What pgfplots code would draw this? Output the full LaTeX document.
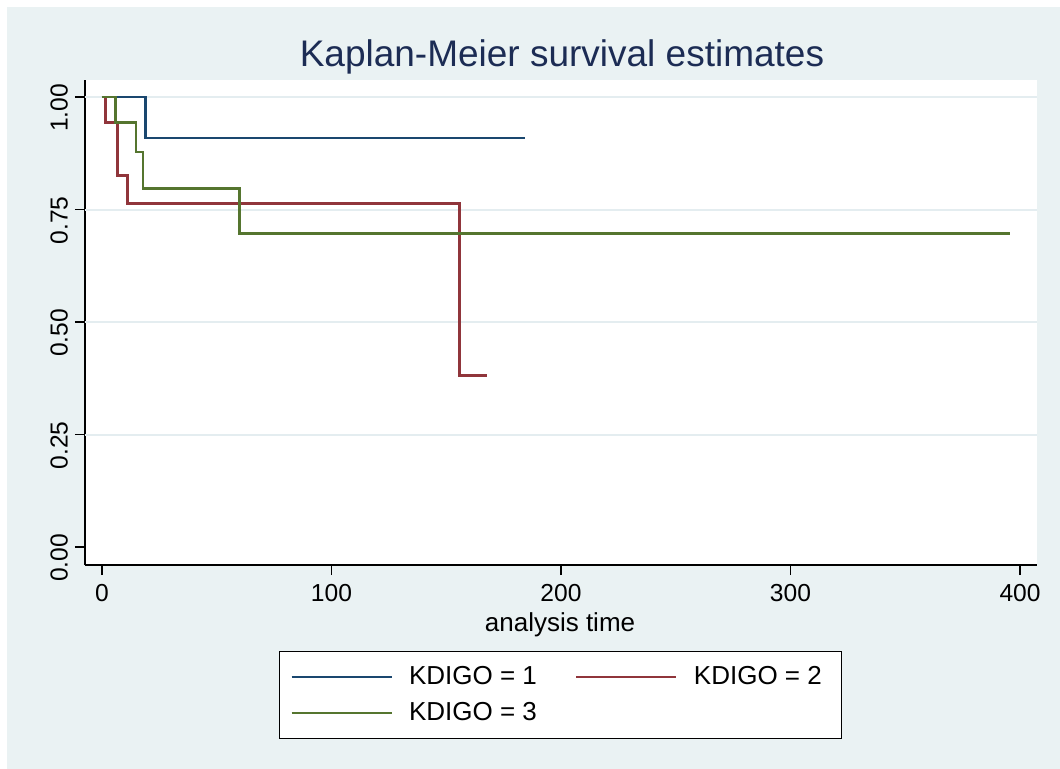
\documentclass[border=0pt]{standalone}
\usepackage{fontspec}
\setmainfont{Liberation Sans}
\usepackage{pgfplots}
\pgfplotsset{compat=1.18}
\definecolor{bgc}{RGB}{234,242,243}
\definecolor{gridc}{RGB}{228,237,240}
\definecolor{titc}{RGB}{28,44,84}
\definecolor{sblue}{RGB}{26,71,111}
\definecolor{sred}{RGB}{144,53,59}
\definecolor{sgreen}{RGB}{85,117,47}
\begin{document}
\begin{tikzpicture}
\fill[white] (0pt,0pt) rectangle (530pt,-384.5pt);
\fill[bgc] (3.5pt,-3.5pt) rectangle (530pt,-384.5pt);
\begin{axis}[
  at={(42.5pt,-282.5pt)}, anchor=south west,
  scale only axis, width=476pt, height=242.5pt,
  xmin=-7.4, xmax=407.4, ymin=-0.04, ymax=1.0378,
  axis x line*=bottom, axis y line*=left,
  axis line style={-, line width=0.6pt, black},
  axis background/.style={fill=white},
  tick align=outside, major tick length=5pt,
  tick style={line width=0.6pt, black},
  xtick={0,100,200,300,400},
  ytick={0,0.25,0.5,0.75,1},
  yticklabels={0.00,0.25,0.50,0.75,1.00},
  extra y ticks={0.25,0.5,0.75,1},
  extra y tick labels={},
  extra y tick style={ymajorgrids=true, major tick length=0pt},
  grid style={gridc, line width=1pt},
  /pgf/number format/assume math mode=true,
  ticklabel style={font=\fontsize{12.3}{14}\selectfont},
  yticklabel style={rotate=90, anchor=south, xshift=-5.5pt},
  xticklabel style={yshift=-1pt},
  title={Kaplan-Meier survival estimates},
  title style={at={(axis description cs:0.501,1.0041)}, anchor=base, font=\fontsize{18.5}{20}\selectfont, text=titc},
  xlabel={analysis time},
  xlabel style={at={(axis description cs:0.499,-0.138)}, anchor=base, font=\fontsize{13}{15}\selectfont},
  legend columns=2,
  legend style={at={(axis description cs:0.4994,-0.1773)}, anchor=north,
    draw=black, line width=0.6pt, fill=white,
    font=\fontsize{13}{15}\selectfont,
    inner xsep=5.5pt, inner ysep=4pt,
    nodes={inner ysep=3.6pt, inner xsep=4.25pt},
    /tikz/every odd column/.append style={column sep=4pt},
    /tikz/every even column/.append style={column sep=15pt}},
  legend cell align=left,
  legend image code/.code={\draw[#1, line width=1pt] (0pt,0pt) -- (50pt,0pt);},
]
\addplot[const plot, sblue, line width=1.4pt] coordinates {(0,1) (19,0.909) (184.3,0.909)};
\addlegendentry{KDIGO = 1}
\addplot[const plot, sred, line width=1.4pt] coordinates {(0,1) (1.7,0.944) (6.8,0.826) (11,0.763) (155.9,0.381) (167.6,0.381)};
\addlegendentry{KDIGO = 2}
\addplot[const plot, sgreen, line width=1.4pt] coordinates {(0,1) (6,0.944) (14.8,0.878) (17.9,0.797) (59.8,0.697) (395.6,0.697)};
\addlegendentry{KDIGO = 3}
\end{axis}
\end{tikzpicture}
\end{document}
